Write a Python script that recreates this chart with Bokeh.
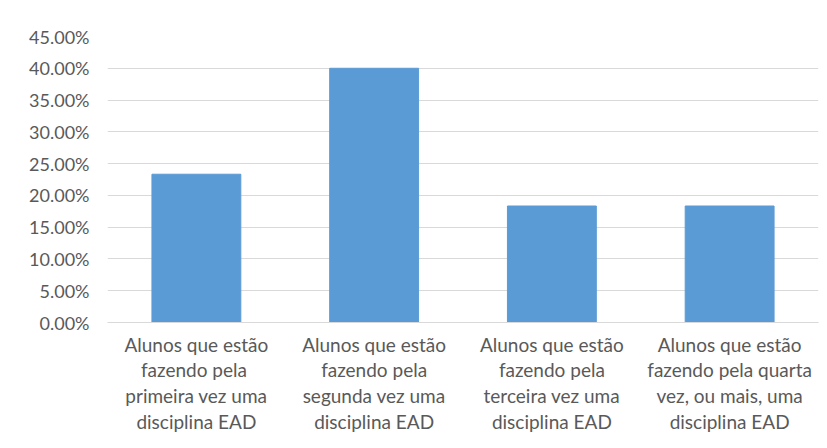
from bokeh.plotting import figure
from bokeh.models import NumeralTickFormatter, FixedTicker
from bokeh.embed import file_html
from bokeh.resources import INLINE

categories = [
    "Alunos que estão\nfazendo  pela\nprimeira vez uma\ndisciplina EAD",
    "Alunos que estão\nfazendo pela\nsegunda vez uma\ndisciplina EAD",
    "Alunos que estão\nfazendo pela\nterceira vez uma\ndisciplina EAD",
    "Alunos que estão\nfazendo pela quarta\nvez, ou mais, uma\ndisciplina EAD",
]
values = [0.2333, 0.40, 0.1833, 0.1833]
y_ticks = [0.0, 0.05, 0.10, 0.15, 0.20, 0.25, 0.30, 0.35, 0.40, 0.45]

p = figure(x_range=categories, y_range=(0, 0.45), width=819, height=446,
           output_backend="svg", toolbar_location=None,
           min_border_left=107, min_border_right=1, min_border_top=36,
           min_border_bottom=124)
p.vbar(x=categories, top=values, width=0.5, color="#5B9BD5")

p.outline_line_color = None
p.background_fill_color = "white"
p.border_fill_color = "white"

p.xgrid.grid_line_color = None
p.ygrid.grid_line_color = "#D9D9D9"
p.ygrid.ticker = FixedTicker(ticks=y_ticks)

p.yaxis.ticker = FixedTicker(ticks=y_ticks)
p.yaxis.formatter = NumeralTickFormatter(format="0.00%")
p.yaxis.axis_line_color = None
p.yaxis.major_tick_line_color = None
p.yaxis.minor_tick_line_color = None
p.yaxis.major_label_standoff = 12
p.yaxis.major_label_text_font = "Lato"
p.yaxis.major_label_text_font_size = "18px"
p.yaxis.major_label_text_color = "#595959"

p.xaxis.axis_line_color = "#D9D9D9"
p.xaxis.major_tick_line_color = None
p.xaxis.minor_tick_line_color = None
p.xaxis.major_label_standoff = 4
p.xaxis.major_label_text_font = "Lato"
p.xaxis.major_label_text_font_size = "19px"
p.xaxis.major_label_text_color = "#595959"
p.xaxis.major_label_text_line_height = 1.12

open("out.html", "w").write(file_html(p, INLINE))
